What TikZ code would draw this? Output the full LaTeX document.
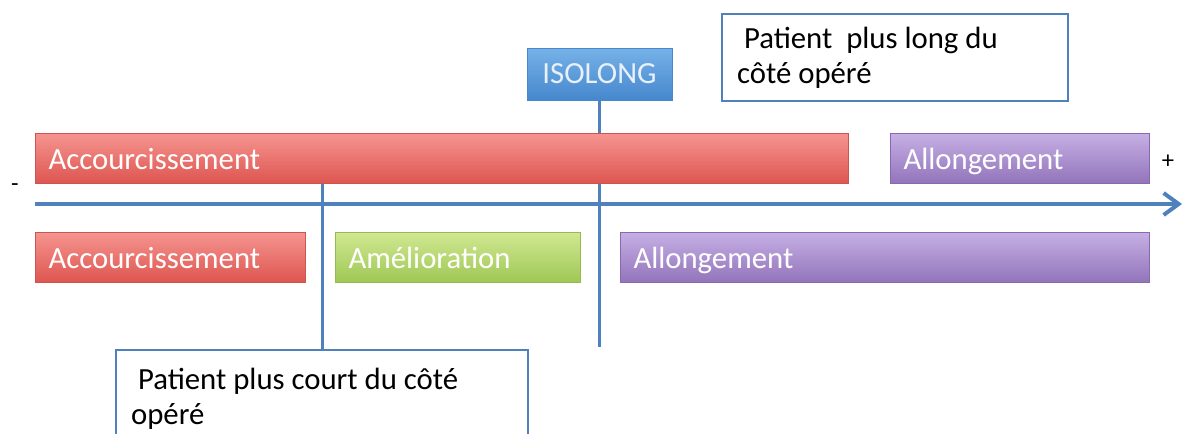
\documentclass[tikz,border=0pt]{standalone}
\usepackage{fontspec}
\setmainfont{Carlito}
\usetikzlibrary{positioning,arrows.meta,calc}
\definecolor{axisblue}{RGB}{79,129,189}
\definecolor{redtop}{RGB}{245,148,143}
\definecolor{redbot}{RGB}{222,85,80}
\definecolor{redline}{RGB}{205,85,80}
\definecolor{purtop}{RGB}{198,175,228}
\definecolor{purbot}{RGB}{146,116,186}
\definecolor{purline}{RGB}{135,105,175}
\definecolor{grntop}{RGB}{208,232,145}
\definecolor{grnbot}{RGB}{158,199,85}
\definecolor{grnline}{RGB}{150,185,80}
\definecolor{blutop}{RGB}{118,178,232}
\definecolor{blubot}{RGB}{70,135,205}
\tikzset{
  seg/.style={rectangle, anchor=north west, minimum height=10mm, inner xsep=2.6mm, inner ysep=0pt, align=flush left, text height=13pt, text depth=0pt, text=white, font=\fontsize{17.5}{20}\selectfont, line width=0.2mm},
  segred/.style={seg, top color=redtop, bottom color=redbot, draw=redline},
  segpur/.style={seg, top color=purtop, bottom color=purbot, draw=purline},
  seggrn/.style={seg, top color=grntop, bottom color=grnbot, draw=grnline},
  iso/.style={rectangle, minimum width=29mm, minimum height=10.4mm, inner sep=0pt, top color=blutop, bottom color=blubot, draw=blubot, text={rgb,255:red,232;green,240;blue,250}, font=\fontsize{17.5}{20}\selectfont},
  callout/.style={rectangle, anchor=north west, draw=axisblue, line width=0.45mm, fill=white, inner xsep=3mm, inner ysep=0pt, align=flush left, font=\fontsize{17.5}{20}\selectfont},
  axis/.style={axisblue, line width=0.8mm, -{Straight Barb[length=3mm,width=4.4mm,line width=0.8mm]}},
  tick/.style={axisblue, line width=0.6mm},
  sign/.style={font=\fontsize{14}{16}\selectfont}
}
\begin{document}
\begin{tikzpicture}[x=0.2mm, y=-0.2mm]
  \useasboundingbox (0,0) rectangle (1186,433);
  \clip (0,0) rectangle (1186,433);
  % Helper macro: a coloured segment of the scale
  \def\segm#1#2#3#4#5#6{%
    % #1 = name, #2 = style, #3,#4 = top left corner, #5 = width (px), #6 = text
    \pgfmathsetlengthmacro\tw{#5*0.2mm-5.2mm}
    \node[#2, text width=\tw] (#1) at (#3,#4) {#6};
  }

  % Axis
  \coordinate (axL) at (35,204);
  \coordinate (axR) at (1182,204);
  \draw[axis] (axL) -- (axR);
  \node[sign] (minus) at (15,188) {-};
  \node[sign] (plus) at (1168,162) {+};

  % Isolength marker and callouts
  \node[iso] (isolong) at (599.5,74) {ISOLONG};
  \node[callout, text width=63.2mm, minimum height=17.4mm] (callong) at (721,13)
    {\ Patient\ \ plus long du\\côté opéré};
  \node[callout, text width=76.4mm, minimum height=19.6mm] (calcourt) at (115,349)
    {\ Patient plus court du côté\\opéré};
  \coordinate (isoend) at (599.5,347);
  \draw[tick] (isolong.south) -- (isoend);

  % Segments above the axis
  \segm{acc1}{segred}{35}{133}{813}{Accourcissement}
  \segm{all1}{segpur}{890}{133}{259}{Allongement}
  % Segments below the axis
  \segm{acc2}{segred}{35}{232}{270}{Accourcissement}
  \segm{ame}{seggrn}{335}{232}{245}{Amélioration}
  \segm{all2}{segpur}{620}{232}{529}{Allongement}

  % Leaders to the callouts
  \draw[tick] (calcourt.north) -- (calcourt.north |- acc1.south);
  \draw[tick] ($(callong.south west)!0.43!(callong.south east)$) -- ($(callong.south west)!0.43!(callong.south east)$ |- all2.north);
\end{tikzpicture}
\end{document}
